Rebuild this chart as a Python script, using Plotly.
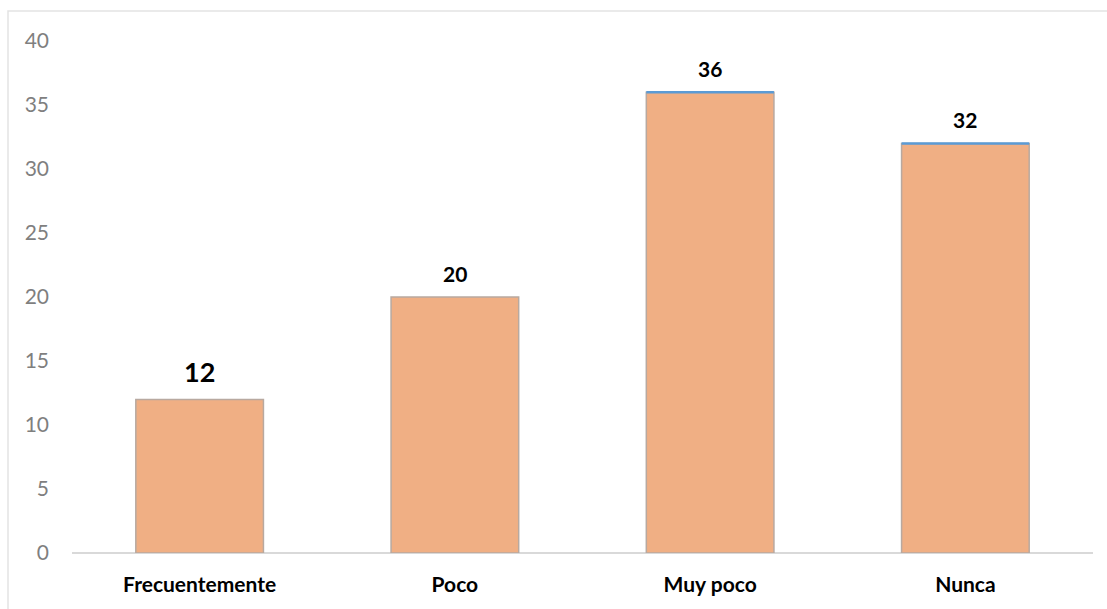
import plotly.graph_objects as go

categories = ["Frecuentemente", "Poco", "Muy poco", "Nunca"]
values = [12, 20, 36, 32]
label_sizes = [27, 21, 21, 21]
blue_top = [False, False, True, True]
y_ticks = [0, 5, 10, 15, 20, 25, 30, 35, 40]

xs = list(range(len(categories)))
W, H = 1107, 609
L, R, T, B = 72, 14, 41, 56
pw = W - L - R
ph = H - T - B

fig = go.Figure()
fig.add_trace(go.Bar(
    x=xs, y=values, width=0.5,
    marker=dict(color="#F0AF84", line=dict(color="#B8A9A0", width=1.5)),
    hoverinfo="skip", showlegend=False,
))
# blue top edges
for i, (v, b) in enumerate(zip(values, blue_top)):
    if b:
        fig.add_trace(go.Scatter(x=[xs[i] - 0.25, xs[i] + 0.25], y=[v, v], mode="lines",
                                 line=dict(color="#5B9BD5", width=2.5), showlegend=False,
                                 hoverinfo="skip"))
# data labels
for i, v in enumerate(values):
    fig.add_annotation(x=xs[i], y=v, text=f"<b>{v}</b>", showarrow=False, yanchor="bottom",
                       yshift=9, font=dict(size=label_sizes[i], color="#000000", family="Lato"))

fig.add_shape(type="rect", xref="paper", yref="paper",
              x0=(8 - L) / pw, x1=(W + 5 - L) / pw,
              y0=(T + ph - (H + 5)) / ph, y1=(T + ph - 11) / ph,
              line=dict(color="#E3E3E3", width=1.5), layer="below")

fig.update_layout(
    width=W, height=H,
    margin=dict(l=L, r=R, t=T, b=B),
    paper_bgcolor="white", plot_bgcolor="white",
    font=dict(family="Lato"),
    xaxis=dict(range=[-0.5, 3.5], tickvals=xs,
               ticktext=[f"<b>{c}</b>" for c in categories],
               tickfont=dict(size=21, color="#000000", family="Lato"),
               showgrid=False, zeroline=False, showline=False, ticks="", ticklabelstandoff=17),
    yaxis=dict(range=[0, 40], tickvals=y_ticks, showgrid=False,
               zeroline=True, zerolinecolor="#D9D9D9", zerolinewidth=1.5,
               tickfont=dict(size=21, color="#7F7F7F", family="Lato"),
               ticks="", ticklabelstandoff=22),
)

fig.write_html("out.html")
